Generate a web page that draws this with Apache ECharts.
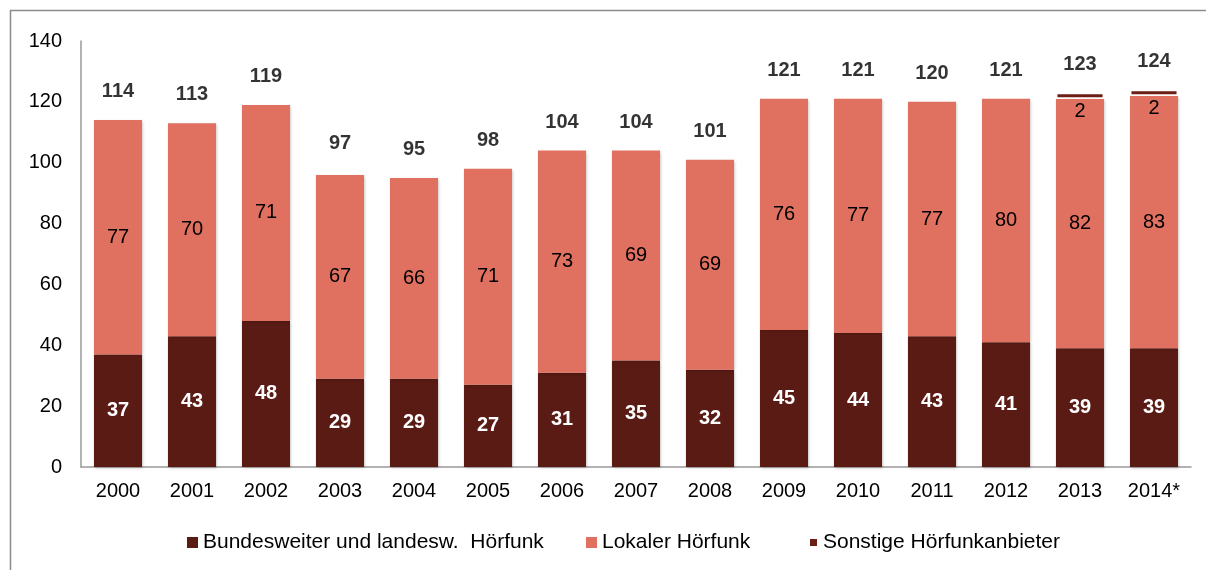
<!DOCTYPE html>
<html>
<head>
<meta charset="utf-8">
<script src="https://cdn.jsdelivr.net/npm/echarts@6/dist/echarts.min.js"></script>
<style>
  html, body { margin: 0; padding: 0; background: #fff; }
  #chart { width: 1206px; height: 570px; }
</style>
</head>
<body>
<div id="chart"></div>
<script>
// Werte
const jahre = ['2000', '2001', '2002', '2003', '2004', '2005', '2006', '2007', '2008', '2009', '2010', '2011', '2012', '2013', '2014*'];
const bundesweit = [37, 43, 48, 29, 29, 27, 31, 35, 32, 45, 44, 43, 41, 39, 39];
const lokal = [77, 70, 71, 67, 66, 71, 73, 69, 69, 76, 77, 77, 80, 82, 83];
const sonstige = [null, null, null, null, null, null, null, null, null, null, null, null, null, 2, 2];
const gesamt = [114, 113, 119, 97, 95, 98, 104, 104, 101, 121, 121, 120, 121, 123, 124];
const yTicks = [0, 20, 40, 60, 80, 100, 120, 140];

const namen = ['Bundesweiter und landesw.  Hörfunk', 'Lokaler Hörfunk', 'Sonstige Hörfunkanbieter'];

const font = 'Liberation Sans, Arial, sans-serif';
const schatten = { shadowBlur: 3, shadowColor: 'rgba(0,0,0,0.25)', shadowOffsetX: 1, shadowOffsetY: 1 };

let myChart = echarts.init(document.getElementById('chart'));

// eine Legende pro Eintrag, damit die Abstaende wie im Original sind
function legende(name, left, groesse) {
  return {
    left: left,
    top: 527,
    itemWidth: groesse,
    itemHeight: groesse,
    textStyle: { fontSize: 21, color: '#000', fontFamily: font },
    data: [{ name: name, icon: 'rect' }]
  };
}

let options = {
  animation: false,
  textStyle: { fontFamily: font },
  graphic: [{
    type: 'rect',
    shape: { x: 10.5, y: 10.5, width: 1220, height: 600 },
    style: { fill: 'none', stroke: '#8c8c8c', lineWidth: 1.5 },
    silent: true
  }],
  grid: { left: 81, right: 15, top: 41, bottom: 103 },
  legend: [
    legende(namen[0], 182, 11),
    legende(namen[1], 581, 11),
    legende(namen[2], 803, 9)
  ],
  xAxis: {
    type: 'category',
    data: jahre,
    axisLine: { lineStyle: { color: '#999', width: 1.5 } },
    axisTick: { show: false },
    axisLabel: { color: '#000', fontSize: 20, margin: 14, fontFamily: font }
  },
  yAxis: {
    type: 'value',
    min: yTicks[0],
    max: yTicks[yTicks.length - 1],
    interval: 20,
    splitLine: { show: false },
    axisLine: { show: true, lineStyle: { color: '#999', width: 1.5 } },
    axisTick: { show: false },
    axisLabel: { color: '#000', fontSize: 20, margin: 19, fontFamily: font }
  },
  series: [
    {
      name: namen[0],
      type: 'bar',
      stack: 'gesamt',
      barCategoryGap: '35%',
      data: bundesweit,
      itemStyle: Object.assign({ color: '#5a1b14' }, schatten),
      label: { show: true, position: 'inside', color: '#fff', fontWeight: 'bold', fontSize: 20, fontFamily: font }
    },
    {
      name: namen[1],
      type: 'bar',
      stack: 'gesamt',
      data: lokal,
      itemStyle: Object.assign({ color: '#e0705f' }, schatten),
      label: { show: true, position: 'inside', color: '#000', fontSize: 20, fontFamily: font }
    },
    {
      name: namen[2],
      type: 'bar',
      stack: 'gesamt',
      data: sonstige,
      itemStyle: { color: '#6b1e14', borderColor: '#fff', borderWidth: 1.5 },
      label: { show: true, position: 'bottom', distance: 3, color: '#000', fontSize: 20, fontFamily: font }
    },
    {
      name: 'Summe',
      type: 'scatter',
      data: gesamt,
      symbolSize: 1,
      itemStyle: { color: 'rgba(0,0,0,0)' },
      silent: true,
      label: { show: true, position: 'top', distance: 18, color: '#000', fontWeight: 'bold', fontSize: 20, fontFamily: font }
    }
  ]
};

myChart.setOption(options);
</script>
</body>
</html>
